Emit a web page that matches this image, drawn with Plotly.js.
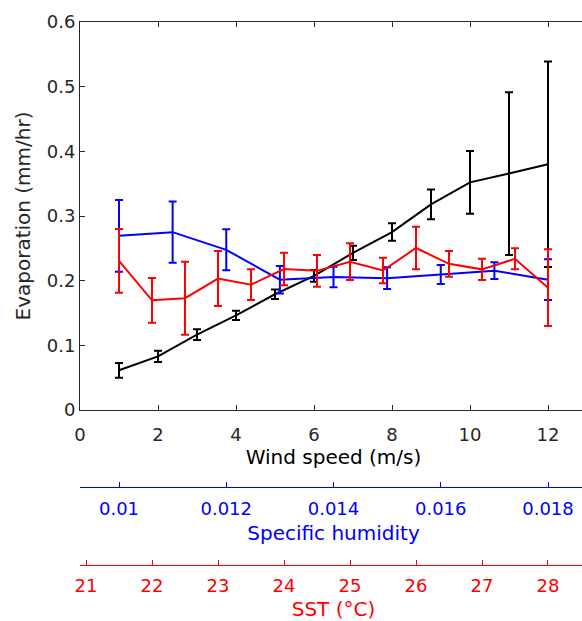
<!DOCTYPE html>
<html>
<head>
<meta charset="utf-8">
<script src="https://cdn.plot.ly/plotly-3.0.1.min.js"></script>
<style>
html, body { margin: 0; padding: 0; overflow: hidden; background: #fff; }
#chart { width: 590px; height: 621px; }
</style>
</head>
<body>
<div id="chart"></div>
<script>
// Wind speed series (black)
const windSpeed = [1, 2, 3, 4, 5, 6, 7, 8, 9, 10, 11, 12];
const evapWind = [0.0614, 0.083, 0.1165, 0.1464, 0.179, 0.2075, 0.243, 0.2752, 0.318, 0.352, 0.3656, 0.380];
const errWind = [0.0114, 0.0087, 0.0083, 0.0072, 0.0075, 0.009, 0.011, 0.0134, 0.023, 0.0485, 0.1258, 0.159];

// Specific humidity series (blue)
const humidityPts = [0.010, 0.011, 0.012, 0.013, 0.014, 0.015, 0.016, 0.017, 0.018];
const evapHumidity = [0.2693, 0.275, 0.2477, 0.2015, 0.2057, 0.2038, 0.2095, 0.2154, 0.2015];
const errHumidity = [0.0554, 0.0473, 0.0317, 0.0212, 0.016, 0.0168, 0.0147, 0.0129, 0.0315];

// SST series (red)
const sst = [21.5, 22, 22.5, 23, 23.5, 24, 24.5, 25, 25.5, 26, 26.5, 27, 27.5, 28];
const evapSST = [0.2307, 0.1696, 0.1729, 0.2033, 0.1938, 0.218, 0.2152, 0.2293, 0.2157, 0.2505, 0.226, 0.2175, 0.2338, 0.1891];
const errSST = [0.0492, 0.0345, 0.0564, 0.0425, 0.0237, 0.025, 0.0245, 0.0284, 0.0198, 0.033, 0.0199, 0.0165, 0.0162, 0.0593];

// Tick labels
const windTicks = [0, 2, 4, 6, 8, 10, 12];
const evapTicks = [0, 0.1, 0.2, 0.3, 0.4, 0.5, 0.6];
const evapTickText = ['0', '0.1', '0.2', '0.3', '0.4', '0.5', '0.6'];
const humTicks = [0.010, 0.012, 0.014, 0.016, 0.018];
const humTickText = ['0.01', '0.012', '0.014', '0.016', '0.018'];
const sstTicks = [21, 22, 23, 24, 25, 26, 27, 28];
const sstTickText = ['21', '22', '23', '24', '25', '26', '27', '28'];

const FONT = 'DejaVu Sans, Arial, sans-serif';
const AX = '#262626';

const traces = [
  {
    x: sst, y: evapSST, xaxis: 'x3', yaxis: 'y', mode: 'lines',
    line: {color: '#ff0000', width: 2},
    error_y: {type: 'data', array: errSST, visible: true, color: '#ff0000', thickness: 2, width: 4},
    hoverinfo: 'skip', showlegend: false
  },
  {
    x: humidityPts, y: evapHumidity, xaxis: 'x2', yaxis: 'y', mode: 'lines',
    line: {color: '#0000ff', width: 2},
    error_y: {type: 'data', array: errHumidity, visible: true, color: '#0000ff', thickness: 2, width: 4},
    hoverinfo: 'skip', showlegend: false
  },
  {
    x: windSpeed, y: evapWind, xaxis: 'x', yaxis: 'y', mode: 'lines',
    line: {color: '#000000', width: 2},
    error_y: {type: 'data', array: errWind, visible: true, color: '#000000', thickness: 2, width: 4},
    hoverinfo: 'skip', showlegend: false
  }
];

const layout = {
  width: 590, height: 621,
  margin: {l: 80, r: 3, t: 22, b: 0},
  paper_bgcolor: '#ffffff', plot_bgcolor: '#ffffff',
  font: {family: FONT, size: 18, color: AX},
  showlegend: false,
  xaxis: {
    range: [0, 13], tickvals: windTicks, ticktext: windTicks.map(String),
    ticks: 'inside', ticklen: 5, tickwidth: 1, tickcolor: AX,
    showline: true, linecolor: AX, linewidth: 1, mirror: 'ticks',
    showgrid: false, zeroline: false, automargin: false, ticklabelstandoff: 8,
    tickfont: {family: FONT, size: 18, color: AX},
    title: {text: 'Wind speed (m/s)', font: {family: FONT, size: 20, color: '#000'}, standoff: 4}
  },
  yaxis: {
    domain: [0.35225, 1], range: [0, 0.6], tickvals: evapTicks, ticktext: evapTickText,
    ticks: 'inside', ticklen: 5, tickwidth: 1, tickcolor: AX,
    showline: true, linecolor: AX, linewidth: 1, mirror: 'ticks',
    showgrid: false, zeroline: false, automargin: false,
    tickfont: {family: FONT, size: 18, color: AX},
    title: {text: 'Evaporation (mm/hr)', font: {family: FONT, size: 20, color: AX}}
  },
  xaxis2: {
    overlaying: 'x', anchor: 'free', position: 0.2237, side: 'bottom',
    range: [0.0092727, 0.0187273], tickvals: humTicks, ticktext: humTickText,
    ticks: 'inside', ticklen: 5, tickwidth: 1, tickcolor: '#0000ff',
    showline: true, linecolor: '#0000ff', linewidth: 1,
    showgrid: false, zeroline: false, automargin: false, ticklabelstandoff: 5,
    tickfont: {family: FONT, size: 18, color: '#0000ff'},
    title: {text: 'Specific humidity', font: {family: FONT, size: 20, color: '#0000ff'}, standoff: 8}
  },
  xaxis3: {
    overlaying: 'x', anchor: 'free', position: 0.0935, side: 'bottom',
    range: [20.909, 28.591], tickvals: sstTicks, ticktext: sstTickText,
    ticks: 'inside', ticklen: 5, tickwidth: 1, tickcolor: '#ff0000',
    showline: true, linecolor: '#ff0000', linewidth: 1,
    showgrid: false, zeroline: false, automargin: false, ticklabelstandoff: 4,
    tickfont: {family: FONT, size: 18, color: '#ff0000'},
    title: {text: 'SST (°C)', font: {family: FONT, size: 20, color: '#ff0000'}, standoff: 13}
  }
};

Plotly.newPlot('chart', traces, layout, {staticPlot: true, displayModeBar: false});
</script>
</body>
</html>
